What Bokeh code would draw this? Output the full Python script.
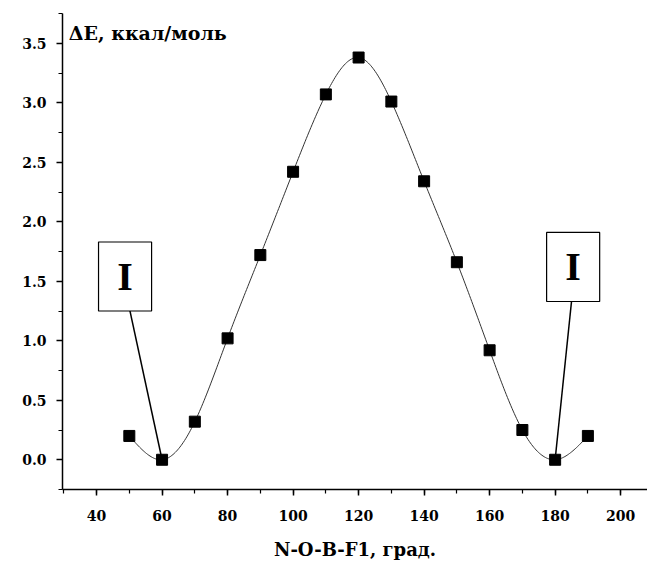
import numpy as np
from bokeh.plotting import figure
from bokeh.models import Range1d, FixedTicker, Label
from bokeh.core.properties import value
from bokeh.embed import file_html
from bokeh.resources import INLINE

# data
angle = [50, 60, 70, 80, 90, 100, 110, 120, 130, 140, 150, 160, 170, 180, 190]
energy = [0.20, 0.00, 0.32, 1.02, 1.72, 2.42, 3.07, 3.38, 3.01, 2.34, 1.66, 0.92, 0.25, 0.00, 0.20]
x_ticks = [40, 60, 80, 100, 120, 140, 160, 180, 200]
y_ticks = [0.0, 0.5, 1.0, 1.5, 2.0, 2.5, 3.0, 3.5]
y_title = "ΔE, ккал/моль"
x_title = "N-O-B-F1, град."
marker_label = "I"

SERIF = "DejaVu Serif"


def natural_spline(xs, ys, n=400):
    xs = np.asarray(xs, float)
    ys = np.asarray(ys, float)
    k = len(xs)
    h = np.diff(xs)
    A = np.zeros((k, k))
    b = np.zeros(k)
    A[0, 0] = 1
    A[-1, -1] = 1
    for i in range(1, k - 1):
        A[i, i - 1] = h[i - 1]
        A[i, i] = 2 * (h[i - 1] + h[i])
        A[i, i + 1] = h[i]
        b[i] = 3 * ((ys[i + 1] - ys[i]) / h[i] - (ys[i] - ys[i - 1]) / h[i - 1])
    c = np.linalg.solve(A, b)
    xx = np.linspace(xs[0], xs[-1], n)
    yy = np.empty_like(xx)
    for j, xv in enumerate(xx):
        i = min(np.searchsorted(xs, xv, side="right") - 1, k - 2)
        dx = xv - xs[i]
        bi = (ys[i + 1] - ys[i]) / h[i] - h[i] * (2 * c[i] + c[i + 1]) / 3
        di = (c[i + 1] - c[i]) / (3 * h[i])
        yy[j] = ys[i] + bi * dx + c[i] * dx ** 2 + di * dx ** 3
    return xx, yy


p = figure(width=647, height=567, output_backend="svg", toolbar_location=None,
           x_range=Range1d(29.6, 208.2), y_range=Range1d(-0.25, 3.75),
           min_border_left=62, min_border_right=0, min_border_top=13, min_border_bottom=78)
p.outline_line_color = None
p.xgrid.visible = False
p.ygrid.visible = False
p.background_fill_color = "white"

for ax in (p.xaxis[0], p.yaxis[0]):
    ax.axis_line_width = 1.5
    ax.axis_line_color = "black"
    ax.major_tick_line_width = 1.5
    ax.minor_tick_line_width = 1.2
    ax.major_tick_out = 6
    ax.major_tick_in = 0
    ax.minor_tick_out = 4
    ax.minor_tick_in = 0
    ax.major_label_text_font = SERIF
    ax.major_label_text_font_style = "bold"
    ax.major_label_text_font_size = "14px"
    ax.major_label_text_color = "black"

p.xaxis.ticker = FixedTicker(ticks=x_ticks, minor_ticks=list(range(30, 210, 10)))
p.yaxis.ticker = FixedTicker(ticks=y_ticks, minor_ticks=[v / 4 for v in range(-1, 16)])
p.yaxis.major_label_overrides = {v: f"{v:.1f}" for v in y_ticks}
p.xaxis.major_label_standoff = 14
p.yaxis.major_label_standoff = 10
p.xaxis.axis_label = x_title
p.xaxis.axis_label_text_font = SERIF
p.xaxis.axis_label_text_font_style = "bold"
p.xaxis.axis_label_text_font_size = "18px"
p.xaxis.axis_label_text_color = "black"
p.xaxis.axis_label_standoff = 15

xs, ys = natural_spline(angle, energy)
p.line(xs, ys, line_color="#333333", line_width=1)
p.scatter(angle, energy, marker="square", size=11, fill_color="black", line_color="black")

p.add_layout(Label(x=31.5, y=3.59, text=y_title, text_font=SERIF,
                   text_font_style="bold", text_font_size="19px", text_baseline="middle",
                   text_color="black"))

# callout boxes for the minima
i_left = 1
i_right = 13
boxes = [
    dict(left=40.6, right=56.8, top=1.83, bottom=1.25, lx=49.5, ly=1.34, i=i_left),
    dict(left=177.4, right=193.6, top=1.91, bottom=1.33, lx=185.0, ly=1.33, i=i_right),
]
for bx in boxes:
    p.segment(x0=[bx["lx"]], y0=[bx["ly"]], x1=[angle[bx["i"]]], y1=[energy[bx["i"]]],
              line_color="black", line_width=1.5)
    p.quad(left=[bx["left"]], right=[bx["right"]], top=[bx["top"]], bottom=[bx["bottom"]],
           fill_color="white", line_color="black", line_width=1.2)
    p.text(x=[(bx["left"] + bx["right"]) / 2], y=[(bx["top"] + bx["bottom"]) / 2],
           text=[marker_label], text_font=value("Liberation Serif"), text_font_style="bold",
           text_font_size="40px", text_align="center", text_baseline="middle",
           text_color="black")

open("out.html", "w").write(file_html(p, INLINE))
